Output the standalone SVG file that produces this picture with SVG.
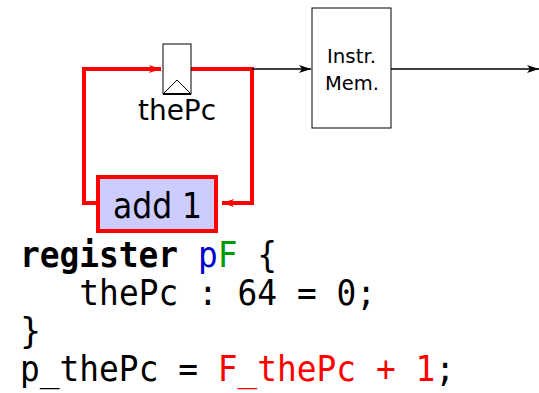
<svg xmlns="http://www.w3.org/2000/svg" width="539" height="393" viewBox="0 0 539 393">
<style>
.red{fill:none;stroke:#ff0000;stroke-width:4}
.blk{fill:none;stroke:#000;stroke-width:1.5}
.lbl{font-family:"DejaVu Sans","Liberation Sans",sans-serif;fill:#000}
.code{font-family:"DejaVu Sans Mono","Liberation Mono",monospace;font-size:35px;fill:#000}
</style>
<defs>
<marker id="ar" viewBox="0 0 12 8" refX="12" refY="4" markerWidth="12" markerHeight="8" markerUnits="userSpaceOnUse" orient="auto"><path d="M0,0 L12,4 L0,8 L3,4 z" fill="#ff0000"/></marker>
<marker id="ab" viewBox="0 0 12 8" refX="12" refY="4" markerWidth="12" markerHeight="8" markerUnits="userSpaceOnUse" orient="auto"><path d="M0,0 L12,4 L0,8 L3,4 z" fill="#000"/></marker>
</defs>
<g id="connectors">
<path class="red" d="M96,203 H84 V69 H161" marker-end="url(#ar)"/>
<path class="red" d="M191,69 H252 V203 H222" marker-end="url(#ar)"/>
<path class="blk" d="M252,69 H311" marker-end="url(#ab)"/>
<path class="blk" d="M391,69 H539" marker-end="url(#ab)"/>
</g>
<g id="thePc">
<rect x="163" y="44" width="28" height="50" fill="#fff" stroke="#000" stroke-width="1"/>
<path d="M163,94 L177,80 L191,94" fill="none" stroke="#000" stroke-width="1"/>
<line x1="163" y1="94" x2="191" y2="94" stroke="#000" stroke-width="2"/>
<text class="lbl" x="138" y="120" font-size="28" textLength="78" lengthAdjust="spacingAndGlyphs">thePc</text>
</g>
<g id="instrmem">
<rect x="312" y="8" width="79" height="120" fill="#fff" stroke="#000" stroke-width="1"/>
<text class="lbl" x="327" y="63" font-size="20" textLength="49" lengthAdjust="spacingAndGlyphs">Instr.</text>
<text class="lbl" x="325" y="90" font-size="20" textLength="54" lengthAdjust="spacingAndGlyphs">Mem.</text>
</g>
<g id="add1">
<rect x="98" y="177" width="118" height="54" fill="#ccccff" stroke="#ff0000" stroke-width="4"/>
<text class="lbl" x="113" y="218" font-size="35" textLength="89" lengthAdjust="spacingAndGlyphs">add 1</text>
</g>
<g id="code">
<text class="code" x="20" y="267" textLength="257" lengthAdjust="spacingAndGlyphs"><tspan font-weight="bold">register</tspan> <tspan fill="#0000cc">p</tspan><tspan fill="#009900">F</tspan> {</text>
<text class="code" x="20" y="305" xml:space="preserve" textLength="356" lengthAdjust="spacingAndGlyphs">   thePc : 64 = 0;</text>
<text class="code" x="20" y="343">}</text>
<text class="code" x="20" y="381" xml:space="preserve" textLength="435" lengthAdjust="spacingAndGlyphs">p_thePc = <tspan fill="#ff0000">F_thePc + 1</tspan>;</text>
</g>
</svg>
